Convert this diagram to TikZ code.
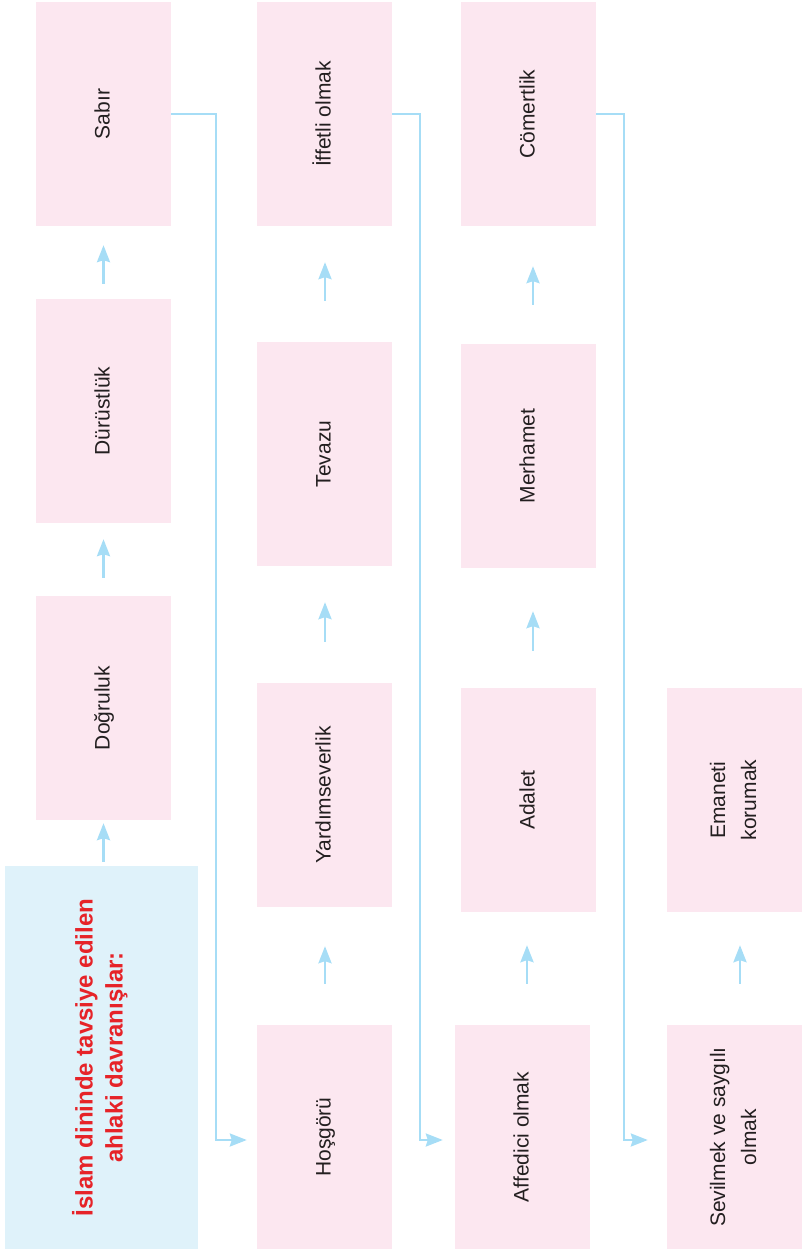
\documentclass[tikz,border=0pt]{standalone}
\usepackage{fontspec}
\setmainfont{Liberation Sans}
\usetikzlibrary{arrows.meta}
\definecolor{pinkbox}{RGB}{252,231,240}
\definecolor{bluebox}{RGB}{223,242,250}
\definecolor{arrowblue}{RGB}{166,221,246}
\definecolor{titlered}{RGB}{230,35,40}
\definecolor{txt}{RGB}{35,31,32}
\newcommand{\vtext}[1]{\rotatebox{90}{\begin{tabular}{@{}c@{}}#1\end{tabular}}}
\begin{document}
\begin{tikzpicture}[x=1pt,y=-1pt,
  box/.style={fill=pinkbox, minimum width=135pt, minimum height=224pt, inner sep=0pt, text=txt, font=\fontsize{21}{31}\selectfont},
  titlebox/.style={fill=bluebox, minimum width=193pt, minimum height=383pt, inner sep=0pt, text=titlered, font=\fontsize{24}{30}\selectfont\bfseries},
  arr/.style={draw=arrowblue, line width=2.6pt, -{Stealth[length=17pt,width=13pt,inset=2pt]}},
  link/.style={arr, line width=2.4pt}]
\useasboundingbox (0,0) rectangle (804,1249);
% column 1
\node[box] (sabir) at (103.5,114) {\vtext{Sabır}};
\node[box] (durust) at (103.5,411) {\vtext{Dürüstlük}};
\node[box] (dogru) at (103.5,708) {\vtext{Doğruluk}};
\node[titlebox] (title) at (101.5,1057.5) {\vtext{İslam dininde tavsiye edilen\\ahlaki davranışlar:}};
% column 2
\node[box] (iffet) at (324.5,114) {\vtext{İffetli olmak}};
\node[box] (tevazu) at (324.5,454) {\vtext{Tevazu}};
\node[box] (yardim) at (324.5,795) {\vtext{Yardımseverlik}};
\node[box] (hosgoru) at (324.5,1137) {\vtext{Hoşgörü}};
% column 3
\node[box] (comert) at (528.5,114) {\vtext{Cömertlik}};
\node[box] (merhamet) at (528.5,456) {\vtext{Merhamet}};
\node[box] (adalet) at (528.5,800) {\vtext{Adalet}};
\node[box] (affedici) at (522.5,1137) {\vtext{Affedici olmak}};
% column 4
\node[box] (emanet) at (734.5,800) {\vtext{Emaneti\\korumak}};
\node[box] (sevil) at (734.5,1137) {\vtext{Sevilmek ve saygılı\\olmak}};
% short arrows
\draw[arr, shorten <=4pt, shorten >=3pt] (title.north -| dogru.south) -- (dogru.south);
\draw[arr, shorten <=18pt, shorten >=16pt] (dogru.north) -- (durust.south);
\draw[arr, shorten <=15pt, shorten >=19pt] (durust.north) -- (sabir.south);
\draw[arr, shorten <=41pt, shorten >=39pt] ([xshift=0.5pt]hosgoru.north) -- ([xshift=0.5pt]yardim.south);
\draw[arr, shorten <=41pt, shorten >=36pt] ([xshift=0.5pt]yardim.north) -- ([xshift=0.5pt]tevazu.south);
\draw[arr, shorten <=41pt, shorten >=36pt] ([xshift=0.5pt]tevazu.north) -- ([xshift=0.5pt]iffet.south);
\draw[arr, shorten <=41pt, shorten >=33pt] ([xshift=4.5pt]affedici.north) -- ([xshift=4.5pt]affedici.north |- adalet.south);
\draw[arr, shorten <=37pt, shorten >=43pt] ([xshift=4.5pt]adalet.north) -- ([xshift=4.5pt]merhamet.south);
\draw[arr, shorten <=39pt, shorten >=40pt] ([xshift=4.5pt]merhamet.north) -- ([xshift=4.5pt]comert.south);
\draw[arr, shorten <=41pt, shorten >=33pt] ([xshift=5.5pt]sevil.north) -- ([xshift=5.5pt]emanet.south);
% long connectors
\draw[link, shorten >=10pt] (sabir.east) -- ++(45,0) |- ([yshift=-3pt]hosgoru.west);
\draw[link, shorten >=12pt] (iffet.east) -- ++(28,0) |- ([yshift=-3pt]affedici.west);
\draw[link, shorten >=19pt] (comert.east) -- ++(28,0) |- ([yshift=-3pt]sevil.west);
\end{tikzpicture}
\end{document}
